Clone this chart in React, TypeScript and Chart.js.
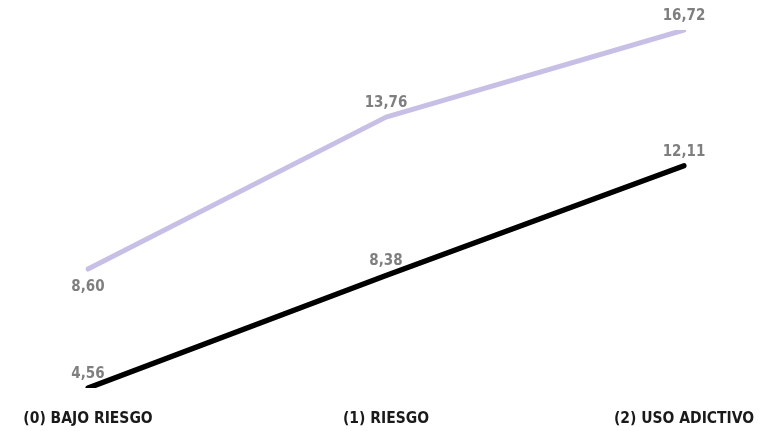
import React, { useEffect, useRef } from "react";
import { Chart, registerables } from "chart.js";

Chart.register(...registerables);

const categories = ["(0) BAJO RIESGO", "(1) RIESGO", "(2) USO ADICTIVO"];
const seriesLavender = [8.6, 13.76, 16.72];
const seriesBlack = [4.56, 8.38, 12.11];

const FONT = "'DejaVu Sans Condensed', 'DejaVu Sans', sans-serif";

const valueLabels = {
  id: "valueLabels",
  afterDatasetsDraw(chart: any) {
    const ctx = chart.ctx;
    ctx.save();
    ctx.font = `bold 15px ${FONT}`;
    ctx.fillStyle = "#7f7f7f";
    ctx.textAlign = "center";
    ctx.textBaseline = "middle";
    chart.data.datasets.forEach((ds: any, i: number) => {
      const meta = chart.getDatasetMeta(i);
      meta.data.forEach((pt: any, j: number) => {
        const v = ds.data[j] as number;
        const pos = (ds.labelPos && ds.labelPos[j]) || "above";
        const dy = pos === "below" ? 18 : -14;
        ctx.fillText(v.toFixed(2).replace(".", ","), pt.x, pt.y + dy);
      });
    });
    ctx.restore();
  },
};

export default function App() {
  const ref = useRef<HTMLCanvasElement>(null);
  useEffect(() => {
    if (!ref.current) return;
    const chart = new Chart(ref.current, {
      type: "line",
      data: {
        labels: categories,
        datasets: [
          {
            label: "A",
            data: seriesLavender,
            borderColor: "#c8bfe7",
            borderWidth: 5,
            pointRadius: 0,
            borderCapStyle: "round",
            borderJoinStyle: "round",
            labelPos: ["below", "above", "above"],
          } as any,
          {
            label: "B",
            data: seriesBlack,
            borderColor: "#000000",
            borderWidth: 5.5,
            pointRadius: 0,
            borderCapStyle: "round",
            borderJoinStyle: "round",
            labelPos: ["above", "above", "above"],
          } as any,
        ],
      },
      options: {
        animation: false,
        responsive: false,
        layout: { padding: { left: 88, right: 85, top: 30, bottom: 2 } },
        plugins: { legend: { display: false }, tooltip: { enabled: false } },
        scales: {
          x: {
            offset: false,
            grid: { display: false, drawTicks: false },
            border: { display: false },
            ticks: {
              padding: 22,
              color: "#1a1a1a",
              font: { family: FONT, size: 15.5, weight: "bold" },
              maxRotation: 0,
              autoSkip: false,
            },
            afterFit(scale: any) {
              scale.height = 41;
              scale.paddingLeft = 0;
              scale.paddingRight = 0;
            },
          },
          y: {
            display: false,
            min: 4.56,
            max: 16.72,
          },
        },
      },
      plugins: [valueLabels],
    });
    return () => chart.destroy();
  }, []);
  return (
    <div style={{ position: "absolute", left: 0, top: 0, width: 769, height: 431, background: "#fff" }}>
      <canvas ref={ref} width={769} height={431} style={{ display: "block" }} />
    </div>
  );
}
